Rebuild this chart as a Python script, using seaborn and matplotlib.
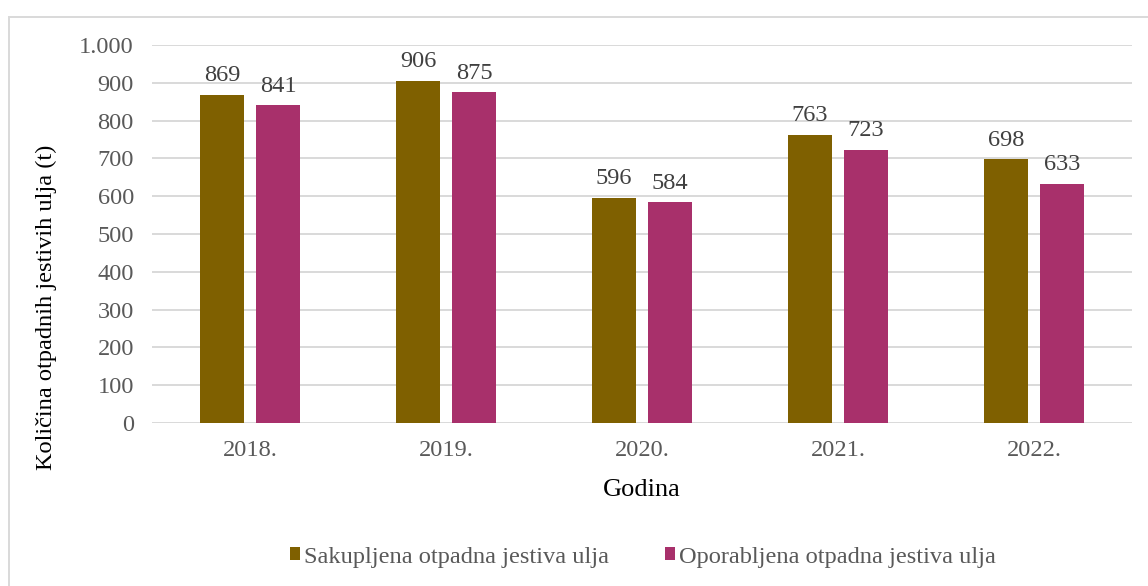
import matplotlib
matplotlib.use("Agg")
import matplotlib.pyplot as plt
import seaborn as sns
import pandas as pd
from matplotlib.ticker import FuncFormatter, MultipleLocator
from matplotlib.patches import Rectangle, Patch

years = ["2018.", "2019.", "2020.", "2021.", "2022."]
collected = [869, 906, 596, 763, 698]
recovered = [841, 875, 584, 723, 633]
series_names = ["Sakupljena otpadna jestiva ulja", "Oporabljena otpadna jestiva ulja"]
colors = ["#7F6000", "#A8306B"]

df = pd.DataFrame({
    "Godina": years * 2,
    "value": collected + recovered,
    "series": [series_names[0]] * len(years) + [series_names[1]] * len(years),
})

sns.set_style("white")
plt.rcParams["font.family"] = ["Liberation Serif", "DejaVu Serif"]
FS = 17.6

fig = plt.figure(figsize=(11.48, 5.86), dpi=100)
W, H = 1148, 586
ax = fig.add_axes([152 / W, 1 - 423 / H, 980 / W, (423 - 45) / H])

sns.barplot(data=df, x="Godina", y="value", hue="series", palette=colors,
            width=0.571, gap=0.214, ax=ax, legend=False, saturation=1,
            linewidth=0)

ax.set_ylim(0, 1000)
ax.set_xlim(-0.5, 4.5)
ax.yaxis.set_major_locator(MultipleLocator(100))
ax.yaxis.set_major_formatter(FuncFormatter(lambda v, p: f"{int(v):,}".replace(",", ".")))
ax.grid(axis="y", color="#D9D9D9", linewidth=1.4)
ax.set_axisbelow(True)
for s in ax.spines.values():
    s.set_visible(False)
ax.tick_params(axis="y", length=0, pad=13, labelsize=FS, labelcolor="#595959")
ax.tick_params(axis="x", length=0, pad=12, labelsize=FS, labelcolor="#595959")
ax.set_xlabel("")
ax.set_ylabel("")

for cont in ax.containers:
    ax.bar_label(cont, labels=[f"{int(b.get_height())}" for b in cont],
                 padding=6, fontsize=FS, color="#404040")

fig.text(46 / W, 1 - 307 / H, "Količina otpadnih jestivih ulja (t)", rotation=90,
         ha="center", va="center", fontsize=FS, color="black")
fig.text(642 / W, 1 - 490 / H, "Godina", ha="center", va="center",
         fontsize=19, color="black")

handles = [Patch(facecolor=c, edgecolor="none") for c in colors]
fig.legend(handles, series_names, loc="center", bbox_to_anchor=(643 / W, 1 - 557 / H),
           ncol=2, frameon=False, fontsize=FS, handlelength=0.42, handleheight=0.42,
           handletextpad=0.15, columnspacing=2.3, labelcolor="#595959")

fig.patches.append(Rectangle((8.5 / W, -0.05), 1.2, 1 - 16.5 / H + 0.05,
                             transform=fig.transFigure, fill=False,
                             edgecolor="#D9D9D9", linewidth=1.4))

fig.savefig("out.png", dpi=100, facecolor="white")
